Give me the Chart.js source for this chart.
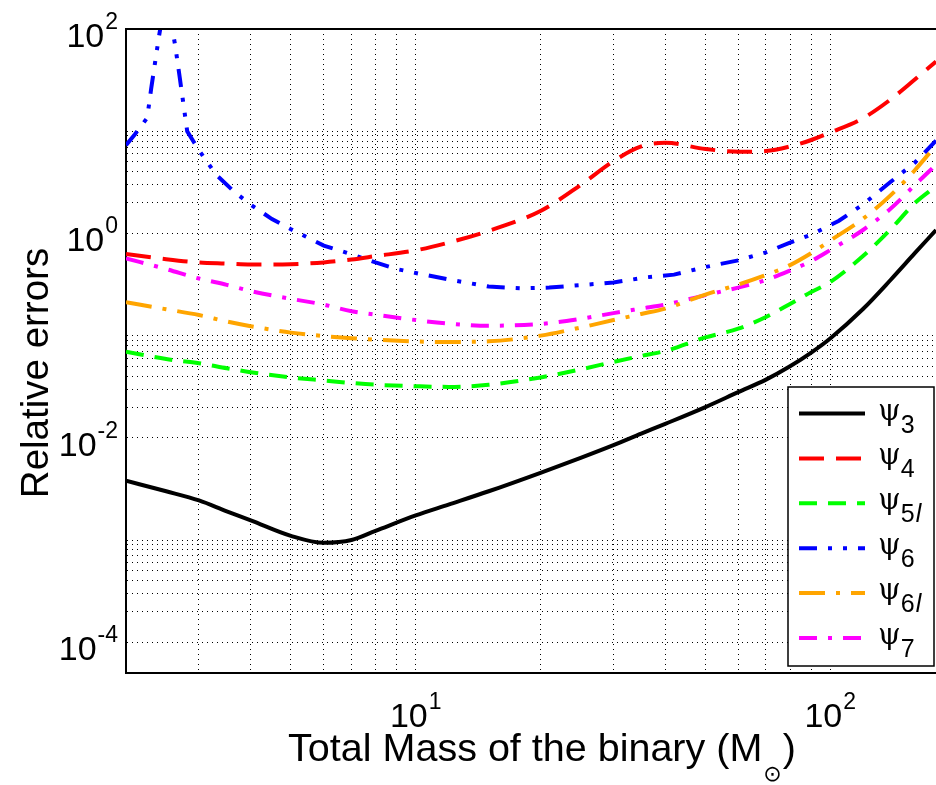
<!DOCTYPE html>
<html>
<head>
<meta charset="utf-8">
<script src="https://cdn.jsdelivr.net/npm/chart.js@4.4.1/dist/chart.umd.min.js"></script>
<style>
html,body{margin:0;padding:0;background:#fff;overflow:hidden}
canvas{display:block}
</style>
</head>
<body>
<canvas id="c" width="936" height="785"></canvas>
<script>
// ---- data ----
const masses = [2, 2.5, 3, 3.5, 4, 5, 6, 7, 8, 10, 12, 15, 20, 25, 30, 35, 40, 50, 60, 70, 80, 90, 100, 120, 140, 160, 180];
const psi3  = [3.8e-3, 3.0e-3, 2.44e-3, 1.91e-3, 1.56e-3, 1.10e-3, 9.4e-4, 1.0e-3, 1.23e-3, 1.74e-3, 2.22e-3, 3.0e-3, 4.55e-3, 6.38e-3, 8.5e-3, 1.10e-2, 1.37e-2, 2.0e-2, 2.8e-2, 3.71e-2, 5.01e-2, 6.83e-2, 9.38e-2, 0.182, 0.352, 0.64, 1.08];
const psi4  = [0.63, 0.56, 0.52, 0.507, 0.496, 0.50, 0.52, 0.556, 0.60, 0.683, 0.813, 1.06, 1.66, 2.98, 5.1, 7.1, 7.7, 6.7, 6.3, 6.4, 7.1, 8.2, 9.7, 13.4, 20.5, 32, 48];
const psi5l = [0.0697, 0.059, 0.0537, 0.048, 0.0438, 0.039, 0.0364, 0.0344, 0.0331, 0.032, 0.0315, 0.033, 0.039, 0.0467, 0.0553, 0.0633, 0.0708, 0.096, 0.117, 0.152, 0.204, 0.267, 0.334, 0.60, 1.10, 1.98, 2.9];
const psi6l = [0.212, 0.181, 0.159, 0.1375, 0.1236, 0.107, 0.099, 0.0944, 0.0914, 0.0877, 0.0866, 0.0879, 0.1, 0.12, 0.142, 0.163, 0.184, 0.252, 0.316, 0.392, 0.49, 0.642, 0.85, 1.39, 2.37, 4.15, 7.3];
const psi7  = [0.57, 0.448, 0.362, 0.314, 0.273, 0.229, 0.201, 0.173, 0.16, 0.142, 0.131, 0.125, 0.13, 0.146, 0.166, 0.184, 0.201, 0.249, 0.295, 0.35, 0.433, 0.536, 0.687, 1.08, 1.75, 2.97, 4.7];
const massesPsi6 = [2, 2.1, 2.25, 2.3, 2.4, 2.5, 2.63, 2.7, 2.81, 2.9, 3, 3.3, 3.65, 4, 4.5, 5, 6, 7, 8, 9, 10, 12, 15, 18, 21, 30, 36, 42, 50, 60, 70, 80, 90, 105, 120, 140, 160, 180];
const psi6  = [7.3, 9.3, 13.5, 26, 83, 220, 68, 32, 10, 8.1, 6.5, 3.75, 2.55, 1.91, 1.38, 1.10, 0.76, 0.624, 0.52, 0.448, 0.41, 0.354, 0.302, 0.29, 0.295, 0.331, 0.372, 0.395, 0.469, 0.545, 0.652, 0.813, 0.973, 1.33, 1.92, 3.2, 4.92, 8.1];

const seriesNames = ['3', '4', '5l', '6', '6l', '7'];
const xGridValues = [3, 4, 5, 6, 7, 8, 9, 10, 20, 30, 40, 50, 60, 70, 80, 90, 100];
const yGridValues = [1e-4, 2e-4, 3e-4, 4e-4, 5e-4, 6e-4, 7e-4, 8e-4, 9e-4, 1e-3,
                     1e-2, 2e-2, 3e-2, 4e-2, 5e-2, 6e-2, 7e-2, 8e-2, 9e-2, 1e-1,
                     1, 2, 3, 4, 5, 6, 7, 8, 9, 10];
const xTickLabels = [{v: 10, e: '1'}, {v: 100, e: '2'}];
const yTickLabels = [{v: 1e-4, e: '-4'}, {v: 1e-2, e: '-2'}, {v: 1, e: '0'}, {v: 100, e: '2'}];

const SANS = '"Liberation Sans", Arial, Helvetica, sans-serif';
const SERIF = '"DejaVu Serif", "Liberation Serif", serif';

function pts(xs, ys) { return xs.map((m, i) => ({x: m, y: ys[i]})); }

const datasets = [
  {label: 'psi3',  data: pts(masses, psi3),  borderColor: '#000000', borderDash: [], cubicInterpolationMode: 'monotone'},
  {label: 'psi4',  data: pts(masses, psi4),  borderColor: '#ff0000', borderDash: [25, 12], cubicInterpolationMode: 'monotone'},
  {label: 'psi5l', data: pts(masses, psi5l), borderColor: '#00ff00', borderDash: [18, 11], cubicInterpolationMode: 'monotone'},
  {label: 'psi6',  data: pts(massesPsi6, psi6), borderColor: '#0000ff', borderDash: [18, 11, 4, 11, 4, 11], tension: 0},
  {label: 'psi6l', data: pts(masses, psi6l), borderColor: '#ffa500', borderDash: [26, 11, 4, 11], cubicInterpolationMode: 'monotone'},
  {label: 'psi7',  data: pts(masses, psi7),  borderColor: '#ff00ff', borderDash: [18, 11, 4, 11], cubicInterpolationMode: 'monotone'}
].map(d => Object.assign({borderWidth: 4, pointRadius: 0, fill: false, borderCapStyle: 'butt'}, d));

const TICK_FONT = '34px ' + SANS;
const EXP_FONT = '23px ' + SANS;

function drawPow(ctx, exp, left, base) {
  ctx.font = TICK_FONT;
  ctx.fillText('10', left, base);
  const wb = ctx.measureText('10').width;
  ctx.font = EXP_FONT;
  ctx.fillText(exp, left + wb + 1, base - 18);
}
function powWidth(ctx, exp) {
  ctx.font = TICK_FONT;
  const wb = ctx.measureText('10').width;
  ctx.font = EXP_FONT;
  return wb + 1 + ctx.measureText(exp).width;
}

const decorPlugin = {
  id: 'decor',
  afterDatasetsDraw(chart) {
    const {ctx, chartArea: ca} = chart;
    ctx.save();
    // top frame
    ctx.strokeStyle = '#000';
    ctx.lineWidth = 2;
    ctx.beginPath();
    ctx.moveTo(ca.left - 1, ca.top);
    ctx.lineTo(ca.right, ca.top);
    ctx.stroke();

    // legend box
    const L = 788, T = 387, R = 934, B = 666;
    ctx.fillStyle = '#fff';
    ctx.fillRect(L, T, R - L, B - T);
    ctx.lineWidth = 1.5;
    ctx.strokeStyle = '#000';
    ctx.strokeRect(L, T, R - L, B - T);
    chart.data.datasets.forEach((ds, i) => {
      const yRow = 413.5 + 44.9 * i;
      ctx.save();
      ctx.strokeStyle = ds.borderColor;
      ctx.lineWidth = 4;
      ctx.lineCap = 'butt';
      ctx.setLineDash(ds.borderDash);
      ctx.beginPath();
      ctx.moveTo(799, yRow);
      ctx.lineTo(865, yRow);
      ctx.stroke();
      ctx.restore();
      ctx.fillStyle = '#000';
      ctx.textAlign = 'left';
      ctx.textBaseline = 'alphabetic';
      ctx.font = '29px ' + SERIF;
      ctx.fillText('\u03C8', 878, yRow + 6);
      const wpsi = ctx.measureText('\u03C8').width;
      const name = seriesNames[i];
      const digit = name[0];
      ctx.font = '25px ' + SANS;
      ctx.fillText(digit, 878 + wpsi, yRow + 19);
      if (name.length > 1) {
        const wd = ctx.measureText(digit).width;
        ctx.font = 'italic 25px ' + SANS;
        ctx.fillText(name.slice(1), 878 + wpsi + wd + 1, yRow + 19);
      }
    });
    ctx.restore();
  },
  afterDraw(chart) {
    const {ctx, chartArea: ca, scales: {x, y}} = chart;
    ctx.save();
    ctx.fillStyle = '#000';
    ctx.textAlign = 'left';
    ctx.textBaseline = 'alphabetic';
    // y tick labels
    yTickLabels.forEach(t => {
      const py = y.getPixelForValue(t.v);
      const w = powWidth(ctx, t.e);
      drawPow(ctx, t.e, ca.left - 8 - w, py + 18);
    });
    // x tick labels
    xTickLabels.forEach(t => {
      const px = x.getPixelForValue(t.v);
      const w = powWidth(ctx, t.e);
      drawPow(ctx, t.e, px - w / 2, ca.bottom + 54);
    });
    // y title
    ctx.save();
    ctx.translate(48, 373);
    ctx.rotate(-Math.PI / 2);
    ctx.textAlign = 'center';
    ctx.font = '38.5px ' + SANS;
    ctx.fillText('Relative errors', 0, 0);
    ctx.restore();
    // x title
    const main = 'Total Mass of the binary (M';
    const sub = '\u2299';
    const tail = ')';
    const FT = '39.5px ' + SANS;
    const FS = '22px "DejaVu Sans", ' + SANS;
    ctx.font = FT;
    const wMain = ctx.measureText(main).width;
    const wTail = ctx.measureText(tail).width;
    ctx.font = FS;
    const wSub = ctx.measureText(sub).width;
    const total = wMain + wSub + wTail + 2;
    let sx = 542 - total / 2;
    const base = 761;
    ctx.font = FT;
    ctx.fillText(main, sx, base);
    sx += wMain + 1;
    ctx.font = FS;
    ctx.fillText(sub, sx, base + 20);
    sx += wSub + 1;
    ctx.font = FT;
    ctx.fillText(tail, sx, base);
    ctx.restore();
  }
};

const gridCommon = {color: '#000', lineWidth: 1, drawTicks: false, borderDash: [1, 4]};
const borderCommon = {display: true, color: '#000', width: 2, dash: [1, 4]};

new Chart(document.getElementById('c'), {
  type: 'line',
  data: {datasets},
  options: {
    responsive: false,
    animation: false,
    devicePixelRatio: 1,
    layout: {padding: {left: 126, top: 29, right: 0, bottom: 112}},
    plugins: {legend: {display: false}, tooltip: {enabled: false}, title: {display: false}},
    scales: {
      x: {
        type: 'logarithmic', min: 2, max: 180,
        afterBuildTicks: s => { s.ticks = xGridValues.map(v => ({value: v})); },
        ticks: {display: false},
        grid: gridCommon,
        border: borderCommon
      },
      y: {
        type: 'logarithmic', min: 5e-5, max: 100,
        afterBuildTicks: s => { s.ticks = yGridValues.map(v => ({value: v})); },
        ticks: {display: false},
        grid: gridCommon,
        border: borderCommon
      }
    }
  },
  plugins: [decorPlugin]
});
</script>
</body>
</html>
